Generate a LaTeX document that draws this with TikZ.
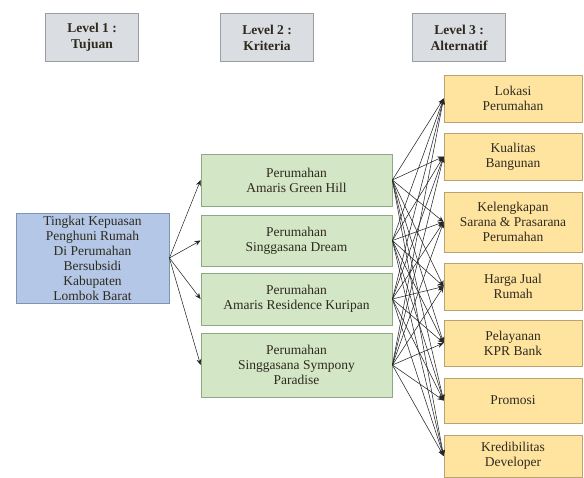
\documentclass[tikz,border=0pt]{standalone}
\usepackage{fontspec}
\setmainfont{Liberation Serif}
\usetikzlibrary{arrows.meta, positioning}
\definecolor{hdrGray}{HTML}{DADDE1}
\definecolor{hdrEdge}{HTML}{9A9EA3}
\definecolor{goalBlue}{HTML}{B4C7E7}
\definecolor{goalEdge}{HTML}{7F93B5}
\definecolor{critGreen}{HTML}{D3E6C6}
\definecolor{critEdge}{HTML}{8FA883}
\definecolor{altYellow}{HTML}{FFE4A0}
\definecolor{altEdge}{HTML}{B8A372}
\definecolor{txtDark}{HTML}{2E2A1E}

\tikzset{
    box/.style={draw, line width=0.8pt, align=center, inner sep=2pt, text=txtDark,
        font=\fontsize{13.5}{15}\selectfont},
    hdrbox/.style={box, fill=hdrGray, draw=hdrEdge, minimum width=93pt, minimum height=48pt,
        font=\fontsize{13.5}{16}\selectfont\bfseries},
    goalbox/.style={box, fill=goalBlue, draw=goalEdge, minimum width=153pt, minimum height=90pt},
    critbox/.style={box, fill=critGreen, draw=critEdge, minimum width=191pt},
    altbox/.style={box, fill=altYellow, draw=altEdge, minimum width=138pt},
    link/.style={draw=black!85, line width=0.55pt, -{Stealth[length=6pt, width=5pt]}}
}

\begin{document}
\begin{tikzpicture}[x=1pt, y=-1pt]
    \useasboundingbox (0,0) rectangle (584,477);

    % Level headers
    \node[hdrbox] (lvl1) at (92,37.5) {Level 1 :\\Tujuan};
    \node[hdrbox] (lvl2) at (267,37.5) {Level 2 :\\Kriteria};
    \node[hdrbox] (lvl3) at (459,37.5) {Level 3 :\\Alternatif};

    % Goal
    \node[goalbox] (goal) at (92.5,258) {Tingkat Kepuasan\\Penghuni Rumah\\Di Perumahan\\Bersubsidi\\Kabupaten\\Lombok Barat};

    % Criteria
    \node[critbox, minimum height=52pt] (crit1) at (296.5,180) {Perumahan\\Amaris Green Hill};
    \node[critbox, minimum height=51pt] (crit2) at (296.5,240.5) {Perumahan\\Singgasana Dream};
    \node[critbox, minimum height=52pt] (crit3) at (296.5,299) {Perumahan\\Amaris Residence Kuripan};
    \node[critbox, minimum height=64pt] (crit4) at (296.5,365) {Perumahan\\Singgasana Sympony\\Paradise};

    % Alternatives
    \node[altbox, minimum height=47pt] (alt1) at (513,98.5) {Lokasi\\Perumahan};
    \node[altbox, minimum height=47pt] (alt2) at (513,156.5) {Kualitas\\Bangunan};
    \node[altbox, minimum height=60pt] (alt3) at (513,222) {Kelengkapan\\Sarana \& Prasarana\\Perumahan};
    \node[altbox, minimum height=47pt] (alt4) at (513,286.5) {Harga Jual\\Rumah};
    \node[altbox, minimum height=46pt] (alt5) at (513,343) {Pelayanan\\KPR Bank};
    \node[altbox, minimum height=45pt] (alt6) at (513,400.5) {Promosi};
    \node[altbox, minimum height=42pt] (alt7) at (513,456) {Kredibilitas\\Developer};

    % Goal to criteria
    \foreach \c in {1,...,4} {
        \draw[link] (goal.east) -- (crit\c.west);
    }

    % Criteria to alternatives
    \foreach \c in {1,...,4} {
        \foreach \a in {1,...,7} {
            \draw[link] (crit\c.east) -- (alt\a.west);
        }
    }
\end{tikzpicture}
\end{document}
